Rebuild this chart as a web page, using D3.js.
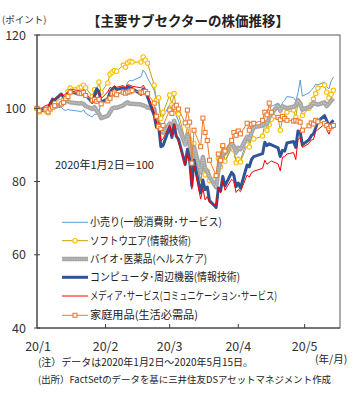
<!DOCTYPE html>
<html><head><meta charset="utf-8">
<script src="https://cdn.jsdelivr.net/npm/d3@7"></script>
<style>
body{margin:0;background:#fff}
svg{display:block}
text{font-family:"Noto Sans CJK JP","Noto Sans",sans-serif}
</style>
</head><body>
<svg id="c" width="354" height="393"></svg>
<script>
// ---- data ----
const dates = ["2020-01-02","2020-01-03","2020-01-06","2020-01-07","2020-01-08","2020-01-09","2020-01-10","2020-01-13","2020-01-14","2020-01-15","2020-01-16","2020-01-17","2020-01-21","2020-01-22","2020-01-23","2020-01-24","2020-01-27","2020-01-28","2020-01-29","2020-01-30","2020-01-31",
"2020-02-03","2020-02-04","2020-02-05","2020-02-06","2020-02-07","2020-02-10","2020-02-11","2020-02-12","2020-02-13","2020-02-14","2020-02-18","2020-02-19","2020-02-20","2020-02-21","2020-02-24","2020-02-25","2020-02-26","2020-02-27","2020-02-28",
"2020-03-02","2020-03-03","2020-03-04","2020-03-05","2020-03-06","2020-03-09","2020-03-10","2020-03-11","2020-03-12","2020-03-13","2020-03-16","2020-03-17","2020-03-18","2020-03-19","2020-03-20","2020-03-23","2020-03-24","2020-03-25","2020-03-26","2020-03-27","2020-03-30","2020-03-31",
"2020-04-01","2020-04-02","2020-04-03","2020-04-06","2020-04-07","2020-04-08","2020-04-09","2020-04-13","2020-04-14","2020-04-15","2020-04-16","2020-04-17","2020-04-20","2020-04-21","2020-04-22","2020-04-23","2020-04-24","2020-04-27","2020-04-28","2020-04-29","2020-04-30",
"2020-05-01","2020-05-04","2020-05-05","2020-05-06","2020-05-07","2020-05-08","2020-05-11","2020-05-12","2020-05-13","2020-05-14","2020-05-15"];

const retail = [100,99.6,99.9,99.6,99.9,100.4,100.0,100.3,99.6,99.4,99.7,99.5,99.2,99.0,99.6,98.6,97.6,98.4,98.3,98.9,102.0,
102.3,102.7,102.9,103.6,103.6,105.0,105.6,107.1,107.6,107.5,108.6,110.4,109.6,108.2,104.9,102.2,101.8,97.0,97.7,
101.0,97.9,100.9,97.9,96.5,90.5,93.5,91.0,84.5,89.8,80.2,84.0,81.6,83.1,80.5,79.9,84.6,83.4,87.6,85.4,89.2,88.3,
85.6,86.8,85.9,91.3,90.6,92.5,94.2,96.3,99.6,98.8,100.3,100.5,101.4,99.1,101.6,102.2,103.2,102.9,102.0,104.2,107.7,
103.3,104.2,104.9,105.6,106.6,106.4,107.1,105.8,105.3,107.4,108.5];

const software = [100,99.0,99.3,98.8,100.4,101.6,101.4,102.9,102.3,102.7,104.6,105.5,105.6,105.8,106.3,105.6,103.2,105.1,104.6,107.2,104.4,
106.9,109.3,109.8,110.3,110.1,111.8,111.2,112.4,112.8,112.6,112.6,114.0,113.1,112.3,106.3,102.2,102.9,97.2,98.9,
103.6,100.9,104.0,99.6,98.4,91.3,95.3,91.6,83.3,90.4,79.5,85.0,81.8,82.8,80.3,81.5,86.3,84.0,89.5,85.5,89.4,88.6,
85.1,86.0,85.3,90.0,89.4,92.0,91.6,92.4,96.0,94.0,95.5,97.0,97.5,94.0,97.3,97.0,98.9,99.5,97.5,101.6,101.0,
98.0,100.0,101.0,102.5,104.0,105.5,106.3,104.4,102.8,103.8,104.9];

const bio = [100,99.6,99.9,99.7,100.2,100.8,100.6,101.0,101.6,101.9,101.9,101.6,101.3,101.4,101.2,100.6,99.8,100.3,99.3,98.6,97.3,
97.9,98.9,99.9,100.2,100.1,100.8,101.3,101.6,101.2,101.2,101.0,100.8,100.6,100.2,99.8,96.7,95.9,94.5,93.3,
95.8,94.5,96.6,94.8,95.0,90.1,92.8,90.4,85.2,89.4,82.5,86.7,83.6,82.8,81.2,78.4,83.0,85.5,88.3,87.6,90.5,89.6,
87.9,89.2,88.8,92.2,91.6,93.4,94.8,95.3,96.2,95.7,97.5,98.5,100.8,99.3,100.5,100.3,100.0,100.4,100.8,102.2,101.3,
99.6,100.3,100.6,101.6,101.2,101.0,101.6,100.6,101.3,102.1,102.7];

const computer = [100,99.2,99.8,99.5,101.2,102.5,102.3,103.9,103.0,102.6,103.8,104.5,103.9,104.2,104.6,103.6,101.6,103.4,105.3,104.6,101.7,
102.6,104.4,105.2,105.8,105.1,105.6,105.0,105.9,105.6,105.4,103.8,105.3,104.6,103.1,98.0,94.8,95.2,89.5,89.8,
94.8,92.0,95.5,92.3,91.5,84.6,88.8,86.0,78.8,85.8,76.9,80.4,77.8,78.5,74.8,72.9,78.2,77.4,81.4,78.8,82.5,81.7,
78.6,79.6,78.2,84.5,84.0,86.0,86.8,87.6,90.7,89.8,90.3,90.0,89.2,86.8,88.5,88.3,90.5,90.9,89.3,93.8,93.5,
90.0,91.4,92.5,93.0,94.6,96.4,98.0,96.6,95.2,96.0,96.7];

const media = [100,99.5,100.8,100.9,101.6,102.3,102.6,104.0,103.5,103.9,104.6,105.2,104.8,104.6,105.1,103.9,101.8,103.2,103.9,104.6,102.6,
104.5,105.7,105.4,106.1,105.7,106.2,105.6,106.4,106.3,106.0,105.6,106.3,105.4,103.5,98.8,96.0,96.3,91.0,91.6,
95.5,92.3,95.6,92.6,90.7,84.5,87.8,84.7,77.9,84.2,75.2,78.1,75.0,75.9,74.2,73.6,78.4,76.9,80.3,77.6,80.6,80.0,
77.0,77.8,77.2,81.8,81.2,82.4,82.8,83.6,85.8,84.7,85.2,85.6,84.8,82.9,86.6,86.8,87.5,87.9,86.0,91.4,92.0,
89.3,90.4,91.3,91.5,93.6,94.2,95.6,94.2,92.9,94.6,95.8];

const household = [100,99.3,99.6,99.0,99.8,100.3,100.7,101.2,101.6,102.6,103.2,104.4,104.1,104.0,104.3,103.5,102.2,102.4,101.9,102.4,101.2,
102.0,102.7,104.0,104.2,103.7,104.4,104.1,104.4,104.5,104.8,104.4,104.3,104.6,104.0,101.4,97.8,95.0,94.5,95.3,
99.5,98.6,100.3,100.8,99.8,96.0,99.5,96.2,85.0,94.0,89.5,97.3,93.4,91.2,85.8,81.6,87.5,85.8,89.8,88.3,91.2,93.4,
92.6,93.8,93.0,95.9,94.0,95.6,95.9,96.7,98.9,98.2,101.4,98.9,97.5,96.9,97.8,97.2,96.7,96.5,96.7,96.5,96.2,
94.0,95.2,96.0,95.7,96.7,96.3,95.8,95.3,94.5,95.0,95.3];

const seriesNames = ["小売り(一般消費財･サービス)","ソフトウエア(情報技術)","バイオ･医薬品(ヘルスケア)","コンピュータ･周辺機器(情報技術)","メディア･サービス(コミュニケーション･サービス)","家庭用品(生活必需品)"];
const yTicks = [40,60,80,100,120];
const xTickDates = ["2020-01-02","2020-02-02","2020-03-02","2020-04-02","2020-05-02"];
const xTickLabels = ["20/1","20/2","20/3","20/4","20/5"];

// ---- chart ----
const parse = d3.timeParse("%Y-%m-%d");
const dts = dates.map(parse);
const svg = d3.select("#c");
const L = 37, R = 340, T = 35, B = 328;
const x = d3.scaleTime().domain([parse("2020-01-02"), parse("2020-05-18")]).range([L, R]);
const y = d3.scaleLinear().domain([40,120]).range([B, T]);

const styles = [
  {data: retail,    color:"#5B9BD5", w:1,   marker:null, tl:132},
  {data: software,  color:"#C9A000", w:1,   marker:"circle", mcolor:"#FFC000", tl:101},
  {data: bio,       color:"#A6A6A6", w:4.5, marker:null, texture:true, tl:117},
  {data: computer,  color:"#2F5597", w:3,   marker:null, tl:150},
  {data: media,     color:"#FF0000", w:1,   marker:null, tl:187},
  {data: household, color:"#ED7D31", w:1,   marker:"square", mcolor:"#ED7D31", tl:108}
];

// frame
svg.append("rect").attr("x",L).attr("y",T).attr("width",R-L).attr("height",B-T)
  .attr("fill","none").attr("stroke","#595959").attr("stroke-width",1);

const line = d3.line().x((d,i)=>x(dts[i])).y(d=>y(d));
const g = svg.append("g");
styles.forEach(s=>{
  g.append("path").datum(s.data).attr("d",line).attr("fill","none")
   .attr("stroke",s.color).attr("stroke-width",s.w).attr("stroke-linejoin","round");
  if(s.texture){
    g.append("path").datum(s.data).attr("d",line).attr("fill","none")
     .attr("stroke","#C4C4C4").attr("stroke-width",1.5).attr("stroke-dasharray","1.2 1.2");
  }
  if(s.marker==="circle"){
    g.selectAll(null).data(s.data).enter().append("circle")
     .attr("cx",(d,i)=>x(dts[i])).attr("cy",d=>y(d)).attr("r",2.2)
     .attr("fill","#fff").attr("stroke",s.mcolor).attr("stroke-width",1.1);
  }
  if(s.marker==="square"){
    g.selectAll(null).data(s.data).enter().append("rect")
     .attr("x",(d,i)=>x(dts[i])-2).attr("y",d=>y(d)-2).attr("width",4).attr("height",4)
     .attr("fill","#fff").attr("stroke",s.mcolor).attr("stroke-width",1.1);
  }
});

// axes lines
svg.append("line").attr("x1",L).attr("x2",L).attr("y1",T).attr("y2",B).attr("stroke","#404040");
svg.append("line").attr("x1",L).attr("x2",R).attr("y1",B).attr("y2",B).attr("stroke","#404040");

// y ticks & labels
yTicks.forEach(v=>{
  svg.append("line").attr("x1",L-3).attr("x2",L+3).attr("y1",y(v)).attr("y2",y(v)).attr("stroke","#404040");
  svg.append("text").attr("x",26).attr("y",y(v)).attr("dy","0.36em").attr("text-anchor","end")
    .attr("font-size",12.5).attr("fill","#333").text(v);
});
// x ticks & labels
xTickDates.forEach((d,i)=>{
  const xx = x(parse(d));
  if(i>0) svg.append("line").attr("x1",xx).attr("x2",xx).attr("y1",B).attr("y2",B-4).attr("stroke","#404040");
  svg.append("text").attr("x",i===0?38:xx).attr("y",351).attr("text-anchor","middle")
    .attr("font-size",12.5).attr("fill","#333").text(xTickLabels[i]);
});

// titles
svg.append("text").attr("x",188).attr("y",26).attr("text-anchor","middle").attr("font-size",13.5)
  .attr("font-weight","bold").attr("fill","#222").text("【主要サブセクターの株価推移】");
svg.append("text").attr("x",2).attr("y",23).attr("font-size",9.5).attr("fill","#333").text("(ポイント)");
svg.append("text").attr("x",55).attr("y",169).attr("font-size",11).attr("fill","#222").text("2020年1月2日＝100");
svg.append("text").attr("x",315).attr("y",363).attr("font-size",10.5).attr("fill","#222").text("(年/月)");
svg.append("text").attr("x",38).attr("y",366).attr("font-size",10).attr("fill","#222")
  .attr("textLength",215).attr("lengthAdjust","spacingAndGlyphs").text("(注）データは2020年1月2日～2020年5月15日。");
svg.append("text").attr("x",38).attr("y",383).attr("font-size",9.5).attr("fill","#222")
  .attr("textLength",293).attr("lengthAdjust","spacingAndGlyphs").text("(出所）FactSetのデータを基に三井住友DSアセットマネジメント作成");

// legend
const rows = [222.3,240.7,259,277.3,296,315.3];
styles.forEach((s,i)=>{
  const ly = rows[i];
  const lg = svg.append("g");
  lg.append("line").attr("x1",62).attr("x2",88).attr("y1",ly).attr("y2",ly)
    .attr("stroke",s.color).attr("stroke-width",s.w);
  if(s.texture) lg.append("line").attr("x1",62).attr("x2",88).attr("y1",ly).attr("y2",ly)
    .attr("stroke","#C4C4C4").attr("stroke-width",1.5).attr("stroke-dasharray","1.2 1.2");
  if(s.marker==="circle") lg.append("circle").attr("cx",75).attr("cy",ly).attr("r",2.2)
    .attr("fill","#fff").attr("stroke",s.mcolor).attr("stroke-width",1.1);
  if(s.marker==="square") lg.append("rect").attr("x",73).attr("y",ly-2).attr("width",4).attr("height",4)
    .attr("fill","#fff").attr("stroke",s.mcolor).attr("stroke-width",1.1);
  lg.append("text").attr("x",90).attr("y",ly).attr("dy","0.36em").attr("font-size",11)
    .attr("fill","#222").attr("textLength",s.tl).attr("lengthAdjust","spacingAndGlyphs").text(seriesNames[i]);
});
</script>
</body></html>
